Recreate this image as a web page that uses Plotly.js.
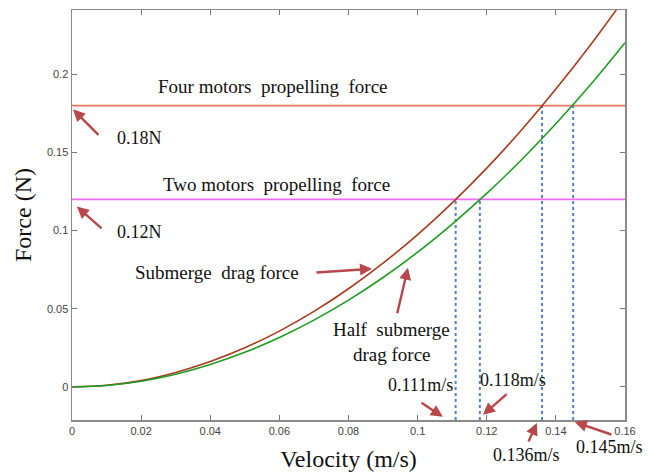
<!DOCTYPE html>
<html>
<head>
<meta charset="utf-8">
<script src="https://cdn.plot.ly/plotly-3.0.1.min.js"></script>
<style>html,body{margin:0;padding:0;background:#fff;}#chart{width:653px;height:472px;}</style>
</head>
<body>
<div id="chart"></div>
<script>
// Velocity samples (m/s)
const velocity = [0, 0.01, 0.02, 0.03, 0.04, 0.05, 0.06, 0.07, 0.08, 0.09, 0.10, 0.11, 0.12, 0.13, 0.14, 0.15, 0.16];
// Submerge drag force (N)
const submergeDrag = [0, 0.001, 0.004, 0.0092, 0.0162, 0.025, 0.0357, 0.0483, 0.0628, 0.0792, 0.0975, 0.1178, 0.14, 0.1643, 0.1906, 0.2188, 0.249];
// Half submerge drag force (N)
const halfSubmergeDrag = [0, 0.0009, 0.0036, 0.0081, 0.0143, 0.0221, 0.0316, 0.0427, 0.0555, 0.07, 0.0862, 0.1042, 0.1238, 0.1452, 0.1684, 0.1933, 0.2202];
// Propelling forces (N)
const fourMotorsForce = 0.18;
const twoMotorsForce = 0.12;
const lineSpan = [0, 0.16];
// Crossing velocities and matching forces
const crossVelocity = [0.111, 0.118, 0.136, 0.145];
const crossForce = [0.12, 0.12, 0.18, 0.18];
const crossLabels = ['0.111m/s', '0.118m/s', '0.136m/s', '0.145m/s'];
// Ticks
const xTickVals = [0, 0.02, 0.04, 0.06, 0.08, 0.1, 0.12, 0.14, 0.16];
const xTickText = ['0', '0.02', '0.04', '0.06', '0.08', '0.1', '0.12', '0.14', '0.16'];
const yTickVals = [0, 0.05, 0.1, 0.15, 0.2];
const yTickText = ['0', '0.05', '0.1', '0.15', '0.2'];

const yMin = -0.0212, yMax = 0.2412;
const serif = 'Liberation Serif, Times New Roman, serif';
const arrowColor = '#b8474a';

const traces = [];
traces.push({x: lineSpan, y: [fourMotorsForce, fourMotorsForce], mode: 'lines', line: {color: '#e5765f', width: 1.6}, hoverinfo: 'skip'});
traces.push({x: lineSpan, y: [twoMotorsForce, twoMotorsForce], mode: 'lines', line: {color: '#f06af0', width: 1.6}, hoverinfo: 'skip'});
crossVelocity.forEach((v, i) => {
  traces.push({x: [v, v], y: [yMin, crossForce[i]], mode: 'lines', line: {color: '#5580c2', width: 2, dash: 'dot'}, hoverinfo: 'skip'});
});
traces.push({x: velocity, y: submergeDrag, mode: 'lines', line: {color: '#a83a1e', width: 1.6, shape: 'spline'}, name: 'Submerge drag force'});
traces.push({x: velocity, y: halfSubmergeDrag, mode: 'lines', line: {color: '#1f9a22', width: 1.6, shape: 'spline'}, name: 'Half submerge drag force'});

function label(text, x, y, size, yref) {
  return {text: text, x: x, y: y, xref: 'x', yref: yref || 'y', showarrow: false, font: {family: serif, size: size, color: '#111'}, xanchor: 'center', yanchor: 'middle'};
}
function arrow(x, y, ax, ay) {
  return {text: '', x: x, y: y, ax: ax, ay: ay, xref: 'x', yref: 'y', axref: 'x', ayref: 'y', showarrow: true, arrowhead: 2, arrowsize: 1, arrowwidth: 2.4, arrowcolor: arrowColor};
}
function arrowPaper(x, y, dx, dy) {
  return {text: '', x: x, y: y, ax: dx, ay: dy, xref: 'x', yref: 'paper', showarrow: true, arrowhead: 2, arrowsize: 1, arrowwidth: 2.4, arrowcolor: arrowColor};
}

const annotations = [
  label('Four motors  propelling  force', 0.0582, 0.1923, 19),
  label('Two motors  propelling  force', 0.0593, 0.1295, 19),
  label('0.18N', 0.0194, 0.1596, 18),
  label('0.12N', 0.0194, 0.0994, 18),
  label('Submerge  drag force', 0.0419, 0.0731, 19),
  label('Half  submerge', 0.0923, 0.0365, 19),
  label('drag force', 0.0926, 0.0205, 19),
  label(crossLabels[0], 0.1007, 0.0013, 18),
  label(crossLabels[1], 0.1276, 0.0045, 18),
  label(crossLabels[2], 0.1314, -0.0854, 18, 'paper'),
  label(crossLabels[3], 0.1554, -0.0659, 18, 'paper'),
  arrow(0.0003, 0.1776, 0.0081, 0.1603),
  arrow(0.0014, 0.1154, 0.009, 0.1006),
  arrow(0.0868, 0.0756, 0.0703, 0.0731),
  arrow(0.0972, 0.0763, 0.094, 0.0462),
  arrow(0.1073, -0.0192, 0.1007, -0.0096),
  arrow(0.1189, -0.0179, 0.1262, -0.0038),
  arrowPaper(0.1345, -0.0073, -9, 20),
  arrowPaper(0.1455, -0.0049, 38, 13)
];

const axisCommon = {
  showgrid: false, zeroline: false, showline: true, linecolor: '#8a8a8a', linewidth: 1.5,
  mirror: 'ticks', ticks: 'inside', ticklen: 5, tickcolor: '#777', tickwidth: 1.2,
  tickfont: {family: 'Liberation Sans, Arial, sans-serif', size: 11, color: '#444'}
};

const layout = {
  width: 653, height: 472,
  margin: {l: 72, r: 28, t: 10, b: 52},
  paper_bgcolor: '#fff', plot_bgcolor: '#fff',
  showlegend: false,
  xaxis: Object.assign({}, axisCommon, {range: [0, 0.16], tickvals: xTickVals, ticktext: xTickText,
    title: {text: 'Velocity (m/s)', font: {family: serif, size: 24, color: '#111'}, standoff: 14}}),
  yaxis: Object.assign({}, axisCommon, {range: [yMin, yMax], tickvals: yTickVals, ticktext: yTickText,
    title: {text: 'Force (N)', font: {family: serif, size: 24, color: '#111'}, standoff: 8}}),
  annotations: annotations
};

Plotly.newPlot('chart', traces, layout, {displayModeBar: false, staticPlot: true});
</script>
</body>
</html>
